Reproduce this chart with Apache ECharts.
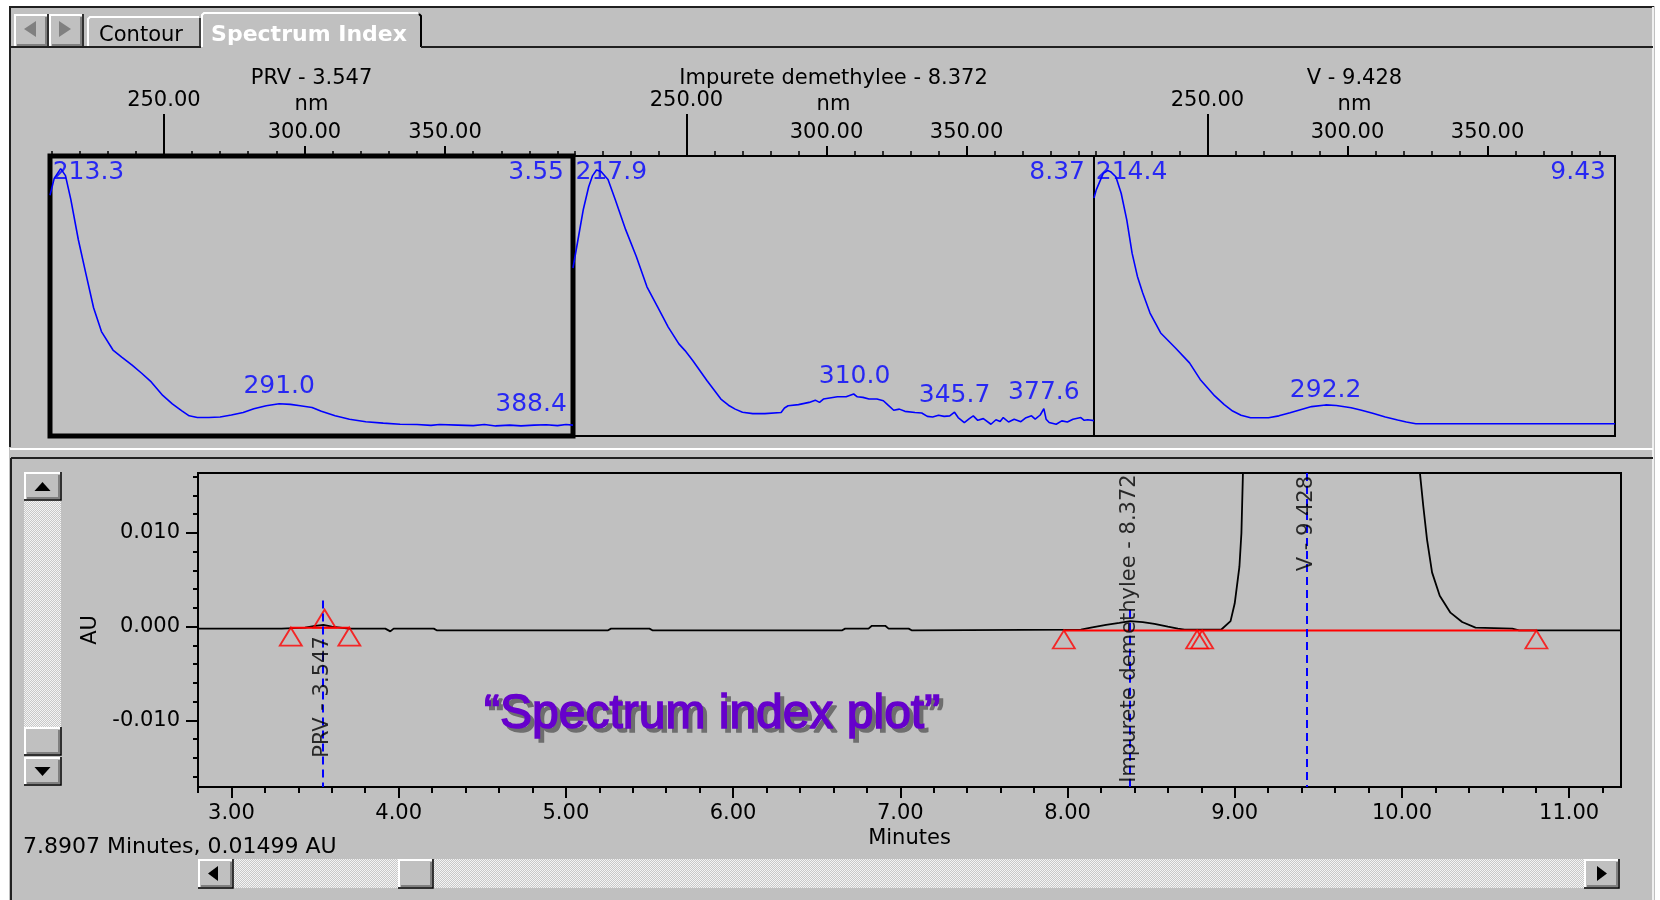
<!DOCTYPE html>
<html>
<head>
<meta charset="utf-8">
<script src="https://cdn.jsdelivr.net/npm/echarts@6.0.0/dist/echarts.min.js"></script>
<style>
  html, body { margin: 0; padding: 0; background: #fff; }
  #chart { width: 1660px; height: 900px; }
</style>
</head>
<body>
<div id="chart"></div>
<script>
// peaks of the run
const peakNames = ['PRV', 'Impurete demethylee', 'V']
const peakTimes = [3.547, 8.372, 9.428]

// UV spectra at each apex: [nm, relative absorbance]
const spectrumPRV = [
  [209.5, 0.86], [211, 0.92], [213.3, 0.955], [215, 0.93], [216.9, 0.845], [219.6, 0.70],
  [222.3, 0.578], [225, 0.458], [227.8, 0.373], [231.9, 0.307], [235, 0.282], [238.7, 0.253],
  [242, 0.225], [245.5, 0.193], [249.6, 0.145], [253, 0.115], [256.4, 0.090], [259, 0.072],
  [261.9, 0.066], [266, 0.066], [270, 0.068], [274, 0.075], [278.2, 0.084], [282, 0.097],
  [286.4, 0.108], [291, 0.115], [295, 0.113], [298.5, 0.108], [302.7, 0.102], [306, 0.088],
  [310.9, 0.072], [316, 0.060], [321.8, 0.051], [328, 0.046], [334, 0.042], [340, 0.041],
  [345, 0.038], [348, 0.041], [354.5, 0.039], [360, 0.037], [364, 0.041], [368, 0.036],
  [373, 0.039], [377, 0.036], [381.7, 0.039], [386, 0.040], [390, 0.037], [393, 0.041],
  [395.5, 0.039]
]
const spectrumImp = [
  [209.5, 0.60], [211.7, 0.725], [213.2, 0.81], [215.1, 0.89], [216.5, 0.93], [217.9, 0.95],
  [219.5, 0.945], [222, 0.916], [224.6, 0.844], [228.3, 0.737], [232.1, 0.641], [235.9, 0.533],
  [239.7, 0.461], [243.5, 0.389], [247.3, 0.329], [249.5, 0.305], [252.3, 0.269], [257.3, 0.198],
  [262.3, 0.132], [265, 0.11], [267.4, 0.096], [270, 0.085], [273.7, 0.080], [278, 0.080],
  [283.8, 0.084], [285, 0.100], [286.3, 0.108], [290, 0.112], [293.8, 0.120], [296, 0.128],
  [297.5, 0.120], [298.9, 0.132], [303.9, 0.140], [307, 0.140], [309.7, 0.150], [311, 0.140],
  [313, 0.138], [315.2, 0.132], [318, 0.132], [320.3, 0.126], [322, 0.110], [324, 0.092],
  [326, 0.096], [328, 0.088], [331.6, 0.084], [334, 0.082], [336, 0.070], [337.9, 0.068],
  [340, 0.074], [342, 0.070], [344, 0.072], [345.7, 0.085], [347, 0.066], [349.2, 0.048],
  [351, 0.062], [352.4, 0.072], [354, 0.056], [356, 0.062], [358.7, 0.042], [360.5, 0.058],
  [362, 0.052], [363.1, 0.066], [365, 0.050], [367, 0.060], [369.4, 0.051], [371, 0.064],
  [373.2, 0.072], [374.5, 0.060], [376.3, 0.075], [377.6, 0.098], [378.4, 0.060], [379.5, 0.048],
  [382, 0.042], [384, 0.054], [386, 0.050], [388, 0.060], [390.8, 0.066], [392, 0.056],
  [393.3, 0.058], [395.5, 0.055]
]
const spectrumV = [
  [209.5, 0.85], [210.3, 0.879], [212.8, 0.938], [214.4, 0.948], [215.4, 0.944], [217.3, 0.926],
  [219.2, 0.867], [221.2, 0.772], [223.1, 0.653], [225, 0.570], [226.9, 0.511], [229.5, 0.439],
  [233.3, 0.368], [238.5, 0.315], [243.6, 0.261], [247.4, 0.202], [252.6, 0.143], [256, 0.112],
  [259, 0.089], [262, 0.074], [265.4, 0.065], [271.8, 0.065], [275.5, 0.072], [279.5, 0.083],
  [283.5, 0.095], [287.2, 0.105], [292.2, 0.111], [296, 0.109], [301.3, 0.101], [305, 0.092],
  [309, 0.081], [313.5, 0.068], [317.9, 0.057], [321, 0.050], [324.4, 0.044], [395.5, 0.044]
]

// lambda max labels: [nm, where the label sits]
const lambdaPRV = [[213.3, 0.94], [291.0, 0.176], [388.4, 0.111]]
const lambdaImp = [[217.9, 0.94], [310.0, 0.212], [345.7, 0.146], [377.6, 0.155]]
const lambdaV = [[214.4, 0.94], [292.2, 0.164]]

const nmMinorTicks = [210, 220, 230, 240, 260, 270, 280, 290, 310, 320, 330, 340, 360, 370, 380, 390]
const nmUpperTicks = [250]
const nmLowerTicks = [300, 350]

// chromatogram: [minutes, AU]
const chromatogram = [
  [2.80, -0.0002], [3.30, -0.0002], [3.44, -0.0001], [3.50, 0.0001], [3.55, 0.0002], [3.60, 0.0000],
  [3.70, -0.0002], [3.92, -0.0002], [3.95, -0.0005], [3.97, -0.0002], [4.21, -0.0002], [4.23, -0.0004],
  [5.25, -0.0004], [5.27, -0.0002], [5.50, -0.0002], [5.52, -0.0004], [6.65, -0.0004], [6.67, -0.0002],
  [6.81, -0.0002], [6.83, 0.0001], [6.91, 0.0001], [6.93, -0.0002], [7.05, -0.0002], [7.07, -0.0004],
  [8.08, -0.0003], [8.14, -0.0001], [8.23, 0.0002], [8.31, 0.0004], [8.375, 0.0006], [8.45, 0.0005],
  [8.52, 0.0003], [8.60, 0.0000], [8.66, -0.0002], [8.70, -0.0003], [8.92, -0.0003], [8.975, 0.0006],
  [9.00, 0.0025], [9.028, 0.0064], [9.04, 0.0100], [9.05, 0.0170], [9.10, 0.0400], [9.20, 0.1200],
  [9.43, 0.3000], [9.70, 0.2000], [9.95, 0.0600], [10.05, 0.0250], [10.107, 0.0165], [10.128, 0.0128],
  [10.15, 0.0093], [10.18, 0.0058], [10.226, 0.0033], [10.29, 0.0015], [10.36, 0.0005], [10.44, -0.0001],
  [10.66, -0.0002], [10.70, -0.0004], [11.31, -0.0004]
]
const baselinePRV = [[3.355, -0.0001], [3.705, -0.0001]]
const baselineMain = [[7.978, -0.0004], [10.804, -0.0004]]
const marksBelow = [[3.355, -0.0001], [3.705, -0.0001], [7.978, -0.0004], [8.775, -0.0004], [8.805, -0.0004], [10.804, -0.0004]]
const marksAbove = [[3.557, -0.0001]]
const apexLineTops = [0.0028, 0.0018, 0.0164]
const peakLabelAt = [-0.0075, -0.0002, 0.0110]

const minuteTicks = [3, 4, 5, 6, 7, 8, 9, 10, 11]
const minuteMinorTicks = [2.8, 3.2, 3.4, 3.6, 3.8, 4.2, 4.4, 4.6, 4.8, 5.2, 5.4, 5.6, 5.8, 6.2, 6.4, 6.6, 6.8,
  7.2, 7.4, 7.6, 7.8, 8.2, 8.4, 8.6, 8.8, 9.2, 9.4, 9.6, 9.8, 10.2, 10.4, 10.6, 10.8, 11.2]
const auTicks = [-0.01, 0, 0.01]
const auMinorTicks = [-0.016, -0.014, -0.012, -0.008, -0.006, -0.004, -0.002, 0.002, 0.004, 0.006, 0.008, 0.012, 0.014, 0.016]

// ---- layout / style ----
const FONT = "'DejaVu Sans', sans-serif"
const GRAY = '#c0c0c0'
const NM_MIN = 209.5, NM_MAX = 395.5
const MIN_MIN = 2.8, MIN_MAX = 11.31
const AU_MIN = -0.0171, AU_MAX = 0.0164

const spectra = [spectrumPRV, spectrumImp, spectrumV]
const lambdas = [lambdaPRV, lambdaImp, lambdaV]
// keep edge labels inside their boxes
const lambdaNudge = [
  [{ align: 'left', offset: [-8, 0] }, {}, { offset: [-22, 0] }],
  [{ align: 'left', offset: [-21, 0] }, {}, {}, {}],
  [{ align: 'left', offset: [-12, 0] }, {}]
]
const specBoxes = [
  { left: 50, width: 523 },
  { left: 573, width: 521 },
  { left: 1094, width: 521 }
]

const txt = { color: '#000', fontFamily: FONT, fontSize: 21 }

const grid = specBoxes.map((b, i) => ({
  left: b.left, top: 156, width: b.width, height: 280,
  show: true, borderColor: '#000', borderWidth: i === 0 ? 5 : 2,
  backgroundColor: 'transparent', outerBoundsMode: 'none'
}))
grid.push({
  left: 198, top: 473, width: 1423, height: 314,
  show: true, borderColor: '#000', borderWidth: 2,
  backgroundColor: 'transparent', outerBoundsMode: 'none'
})

const xAxis = []
const yAxis = []
specBoxes.forEach((b, i) => {
  const base = {
    type: 'value', gridIndex: i, position: 'top', min: NM_MIN, max: NM_MAX,
    axisLine: { show: false, onZero: false }, splitLine: { show: false },
    nameMoveOverlap: false
  }
  xAxis.push({
    ...base,
    axisTick: { show: true, customValues: nmMinorTicks, length: 5, lineStyle: { color: '#000', width: 1.5 } },
    axisLabel: { show: false },
    name: `${peakNames[i]} - ${peakTimes[i].toFixed(3)}`,
    nameLocation: 'middle', nameGap: 67, nameTextStyle: txt
  })
  xAxis.push({
    ...base,
    axisTick: { show: true, customValues: nmUpperTicks, length: 42, lineStyle: { color: '#000', width: 2 } },
    axisLabel: { show: true, customValues: nmUpperTicks, margin: 45, formatter: v => v.toFixed(2), ...txt },
    name: 'nm', nameLocation: 'middle', nameGap: 41, nameTextStyle: txt
  })
  xAxis.push({
    ...base,
    axisTick: { show: true, customValues: nmLowerTicks, length: 10, lineStyle: { color: '#000', width: 2 } },
    axisLabel: { show: true, customValues: nmLowerTicks, margin: 13, formatter: v => v.toFixed(2), ...txt }
  })
  yAxis.push({ type: 'value', gridIndex: i, min: 0, max: 1, show: false })
})

xAxis.push({
  type: 'value', gridIndex: 3, position: 'bottom', min: MIN_MIN, max: MIN_MAX,
  axisLine: { show: true, onZero: false, lineStyle: { color: '#000', width: 2 } },
  axisTick: { show: true, customValues: minuteTicks, length: 11, lineStyle: { color: '#000', width: 2 } },
  axisLabel: { show: true, customValues: minuteTicks, margin: 16, formatter: v => v.toFixed(2), ...txt },
  splitLine: { show: false },
  name: 'Minutes', nameLocation: 'middle', nameGap: 41, nameTextStyle: txt, nameMoveOverlap: false
})
xAxis.push({
  type: 'value', gridIndex: 3, position: 'bottom', min: MIN_MIN, max: MIN_MAX,
  axisLine: { show: false, onZero: false },
  axisTick: { show: true, customValues: minuteMinorTicks, length: 6, lineStyle: { color: '#000', width: 2 } },
  axisLabel: { show: false }, splitLine: { show: false }
})
yAxis.push({
  type: 'value', gridIndex: 3, position: 'left', min: AU_MIN, max: AU_MAX,
  axisLine: { show: true, onZero: false, lineStyle: { color: '#000', width: 2 } },
  axisTick: { show: true, customValues: auTicks, length: 12, lineStyle: { color: '#000', width: 2 } },
  axisLabel: { show: true, customValues: auTicks, margin: 18, formatter: v => v.toFixed(3), ...txt },
  splitLine: { show: false },
  name: 'AU', nameLocation: 'middle', nameGap: 97, nameTextStyle: txt, nameMoveOverlap: false
})
yAxis.push({
  type: 'value', gridIndex: 3, position: 'left', min: AU_MIN, max: AU_MAX,
  axisLine: { show: false, onZero: false },
  axisTick: { show: true, customValues: auMinorTicks, length: 5, lineStyle: { color: '#000', width: 2 } },
  axisLabel: { show: false }, splitLine: { show: false }
})

const series = []
spectra.forEach((data, i) => {
  series.push({
    type: 'line', xAxisIndex: i * 3, yAxisIndex: i, data,
    showSymbol: false, clip: true, silent: true,
    lineStyle: { color: '#0000ff', width: 1.6 }
  })
  series.push({
    type: 'scatter', xAxisIndex: i * 3, yAxisIndex: i, silent: true,
    symbolSize: 1, itemStyle: { color: 'rgba(0,0,0,0)' },
    data: lambdas[i].map((p, j) => ({ value: p, label: lambdaNudge[i][j] })),
    label: {
      show: true, position: 'inside', color: '#0000ff', fontFamily: FONT, fontSize: 25,
      formatter: p => p.value[0].toFixed(1)
    }
  })
  series.push({
    type: 'scatter', xAxisIndex: i * 3, yAxisIndex: i, silent: true,
    symbolSize: 1, itemStyle: { color: 'rgba(0,0,0,0)' },
    data: [[NM_MAX, 0.94]],
    label: {
      show: true, position: 'inside', align: 'right', offset: [-9, 0],
      color: '#0000ff', fontFamily: FONT, fontSize: 25,
      formatter: () => peakTimes[i].toFixed(2)
    }
  })
})

series.push({
  type: 'line', xAxisIndex: 9, yAxisIndex: 3, data: chromatogram,
  showSymbol: false, clip: true, silent: true,
  lineStyle: { color: '#000', width: 1.8 }
})
series.push({
  type: 'line', xAxisIndex: 9, yAxisIndex: 3, data: baselinePRV,
  showSymbol: false, silent: true, lineStyle: { color: '#ff0000', width: 2 }
})
series.push({
  type: 'line', xAxisIndex: 9, yAxisIndex: 3, data: baselineMain,
  showSymbol: false, silent: true, z: 4, lineStyle: { color: '#ff0000', width: 2 },
  markLine: {
    silent: true, symbol: ['none', 'none'], label: { show: false }, z: 6,
    lineStyle: { color: '#0000ff', type: [8, 5], width: 2 },
    data: peakTimes.map((t, i) => [{ coord: [t, apexLineTops[i]] }, { coord: [t, AU_MIN] }])
  }
})
const triStyle = { color: 'rgba(0,0,0,0)', borderColor: '#ff0000', borderWidth: 1.8 }
series.push({
  type: 'scatter', xAxisIndex: 9, yAxisIndex: 3, data: marksBelow, silent: true, z: 5,
  symbol: 'triangle', symbolSize: [22, 18], symbolOffset: [0, '50%'], itemStyle: triStyle
})
series.push({
  type: 'scatter', xAxisIndex: 9, yAxisIndex: 3, data: marksAbove, silent: true, z: 5,
  symbol: 'triangle', symbolSize: [22, 18], symbolOffset: [0, '-50%'], itemStyle: triStyle
})
series.push({
  type: 'scatter', xAxisIndex: 9, yAxisIndex: 3, silent: true, z: 7,
  symbolSize: 1, itemStyle: { color: 'rgba(0,0,0,0)' },
  data: peakTimes.map((t, i) => [t, peakLabelAt[i]]),
  label: {
    show: true, position: 'inside', rotate: 90, ...txt,
    formatter: p => `${peakNames[p.dataIndex]} - ${peakTimes[p.dataIndex].toFixed(3)}`
  }
})

// dithered scroll track
const dither = document.createElement('canvas')
dither.width = 2
dither.height = 2
const dctx = dither.getContext('2d')
dctx.fillStyle = '#c8c8c8'
dctx.fillRect(0, 0, 2, 2)
dctx.fillStyle = '#f4f4f4'
dctx.fillRect(0, 0, 1, 1)
dctx.fillRect(1, 1, 1, 1)
const ditherFill = { image: dither, repeat: 'repeat' }

// window chrome
function bevel(x, y, w, h) {
  return [
    { type: 'rect', shape: { x, y, width: w, height: h }, style: { fill: GRAY } },
    { type: 'polyline', shape: { points: [[x + 1, y + h - 1], [x + 1, y + 1], [x + w - 1, y + 1]] }, style: { stroke: '#fff', lineWidth: 2 } },
    { type: 'polyline', shape: { points: [[x + 3, y + h - 2], [x + w - 2, y + h - 2], [x + w - 2, y + 3]] }, style: { stroke: '#808080', lineWidth: 2 } },
    { type: 'polyline', shape: { points: [[x, y + h], [x + w, y + h], [x + w, y]] }, style: { stroke: '#000', lineWidth: 1.5 } }
  ]
}
function tri(points, fill) {
  return { type: 'polygon', shape: { points }, style: { fill } }
}
function seg(points, stroke, lineWidth) {
  return { type: 'polyline', shape: { points }, style: { stroke, lineWidth } }
}

const chrome = [
  { type: 'rect', shape: { x: 0, y: 0, width: 1660, height: 6 }, style: { fill: '#fff' } },
  { type: 'rect', shape: { x: 0, y: 0, width: 9, height: 900 }, style: { fill: '#fff' } },
  { type: 'rect', shape: { x: 1655, y: 0, width: 5, height: 900 }, style: { fill: '#fff' } },
  seg([[9, 7], [1654, 7]], '#202020', 2),
  seg([[10, 7], [10, 447]], '#202020', 2),
  seg([[1653, 7], [1653, 900]], '#f0f0f0', 2),
  ...bevel(14, 14, 34, 33),
  tri([[24, 29], [36, 21], [36, 37]], '#808080'),
  ...bevel(49, 14, 34, 33),
  tri([[71, 29], [59, 21], [59, 37]], '#808080'),
  seg([[88, 47], [88, 19], [90, 17], [199, 17]], '#fff', 2),
  seg([[200, 18], [200, 47]], '#404040', 2),
  { type: 'text', style: { text: 'Contour', x: 141, y: 36, align: 'center', verticalAlign: 'middle', fill: '#000', font: `21px ${FONT}` } },
  seg([[202, 47], [202, 15], [204, 13], [418, 13]], '#fff', 2),
  seg([[419, 14], [421, 16], [421, 47]], '#000', 2),
  { type: 'text', style: { text: 'Spectrum Index', x: 309, y: 35, align: 'center', verticalAlign: 'middle', fill: '#fff', font: `bold 22px ${FONT}` } },
  seg([[10, 47], [201, 47]], '#202020', 2),
  seg([[421, 47], [1653, 47]], '#202020', 2),
  seg([[10, 449], [1653, 449]], '#fff', 2),
  seg([[11, 458], [1653, 458]], '#202020', 2),
  seg([[11, 458], [11, 900]], '#202020', 2),
  // vertical scroll bar
  { type: 'rect', shape: { x: 24, y: 500, width: 37, height: 227 }, style: { fill: ditherFill } },
  ...bevel(24, 472, 37, 28),
  tri([[42.5, 482], [34.5, 491], [50.5, 491]], '#000'),
  ...bevel(24, 727, 37, 28),
  ...bevel(24, 757, 37, 28),
  tri([[34.5, 767], [50.5, 767], [42.5, 776]], '#000'),
  // horizontal scroll bar
  { type: 'rect', shape: { x: 233, y: 859, width: 1351, height: 29 }, style: { fill: ditherFill } },
  ...bevel(198, 859, 35, 29),
  tri([[208, 873.5], [218, 866], [218, 881]], '#000'),
  ...bevel(398, 859, 35, 29),
  ...bevel(1584, 859, 35, 29),
  tri([[1607, 873.5], [1597, 866], [1597, 881]], '#000'),
  { type: 'text', style: { text: '7.8907 Minutes, 0.01499 AU', x: 23, y: 847, verticalAlign: 'middle', fill: '#000', font: `22px ${FONT}` } }
]

const calloutText = '\u201cSpectrum index plot\u201d'
const calloutFont = { fontFamily: "'Liberation Sans', Arial, sans-serif", fontSize: 48, fontWeight: 'normal' }

const option = {
  animation: false,
  backgroundColor: GRAY,
  title: [
    {
      text: calloutText, left: 488, top: 695, padding: 0,
      textStyle: { ...calloutFont, color: '#6e6e6e', textBorderColor: '#6e6e6e', textBorderWidth: 1.5 }
    },
    {
      text: calloutText, left: 484, top: 691, padding: 0,
      textStyle: { ...calloutFont, color: '#6600cc', textBorderColor: '#6600cc', textBorderWidth: 1.5 }
    }
  ],
  graphic: { elements: chrome },
  grid, xAxis, yAxis, series
}

const chart = echarts.init(document.getElementById('chart'))
chart.setOption(option)
</script>
</body>
</html>
